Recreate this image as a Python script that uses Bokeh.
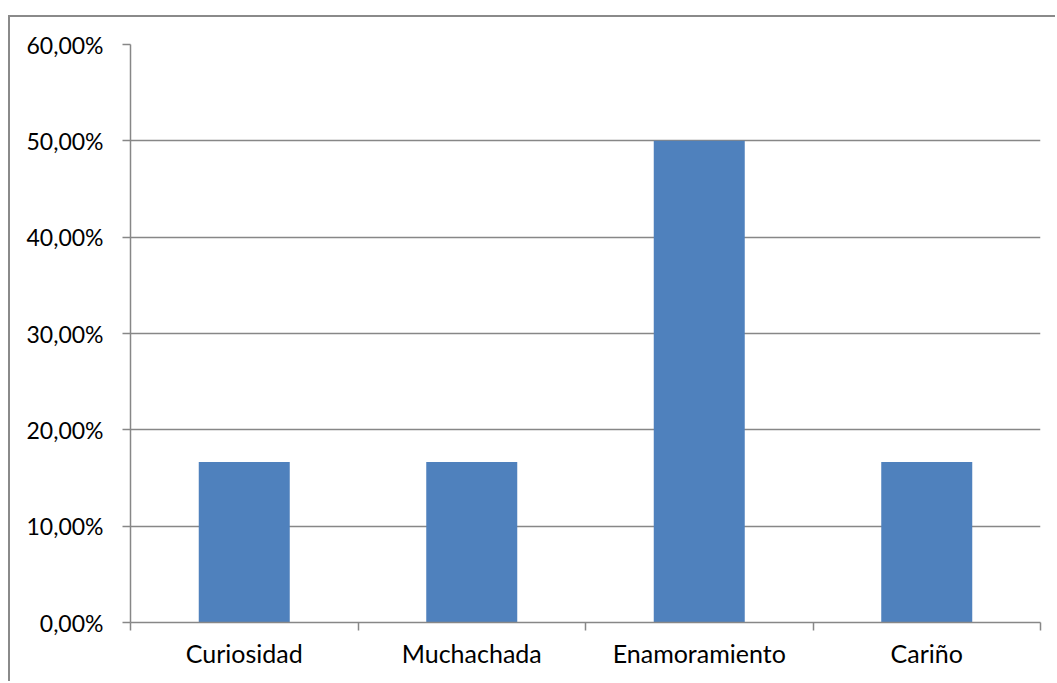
from bokeh.plotting import figure
from bokeh.models import FixedTicker, ColumnDataSource
from bokeh.embed import file_html
from bokeh.resources import INLINE

categories = ["Curiosidad", "Muchachada", "Enamoramiento", "Cariño"]
values_pct = [16.67, 16.67, 50.0, 16.67]
y_ticks = [0, 10, 20, 30, 40, 50, 60]
y_tick_labels = ["0,00%", "10,00%", "20,00%", "30,00%", "40,00%", "50,00%", "60,00%"]

GRAY = "#878787"
FONT = "Lato"

x_centers = [i + 0.5 for i in range(len(categories))]
source = ColumnDataSource(dict(x=x_centers, top=values_pct, cat=categories))

p = figure(width=1047, height=666, x_range=(0, len(categories)), y_range=(0, 60),
           output_backend="svg", toolbar_location=None,
           min_border_left=120, min_border_right=17, min_border_top=27, min_border_bottom=61,
           margin=(17, 0, 0, 10))
p.styles = {"box-shadow": "-2px -2px 0 0 #8a8a8a"}
p.outline_line_color = None
p.background_fill_color = "white"
p.border_fill_color = "white"

p.vbar(x="x", top="top", width=0.4, bottom=0, source=source,
       fill_color="#4F81BD", line_color=None)

# x axis: labels at centers, tick marks at boundaries (minor ticks)
xa = p.xaxis[0]
xa.ticker = FixedTicker(ticks=x_centers, minor_ticks=list(range(len(categories) + 1)))
xa.major_label_overrides = {c: name for c, name in zip(x_centers, categories)}
xa.major_tick_line_color = None
xa.minor_tick_line_color = GRAY
xa.minor_tick_line_width = 1.5
xa.minor_tick_in = 0
xa.minor_tick_out = 8
xa.axis_line_color = GRAY
xa.axis_line_width = 1.5
xa.major_label_text_font = FONT
xa.major_label_text_font_size = "25px"
xa.major_label_text_color = "black"
xa.major_label_standoff = 7

ya = p.yaxis[0]
ya.ticker = FixedTicker(ticks=y_ticks, minor_ticks=[])
ya.major_label_overrides = {t: lab for t, lab in zip(y_ticks, y_tick_labels)}
ya.major_tick_line_color = GRAY
ya.major_tick_line_width = 1.5
ya.major_tick_in = 0
ya.major_tick_out = 8
ya.minor_tick_line_color = None
ya.axis_line_color = GRAY
ya.axis_line_width = 1.5
ya.major_label_text_font = FONT
ya.major_label_text_font_size = "23px"
ya.major_label_text_color = "black"
ya.major_label_standoff = 19

p.xgrid.grid_line_color = None
p.ygrid.ticker = FixedTicker(ticks=y_ticks)
p.ygrid.grid_line_color = GRAY
p.ygrid.grid_line_width = 1.5

open("out.html", "w").write(file_html(p, INLINE))
